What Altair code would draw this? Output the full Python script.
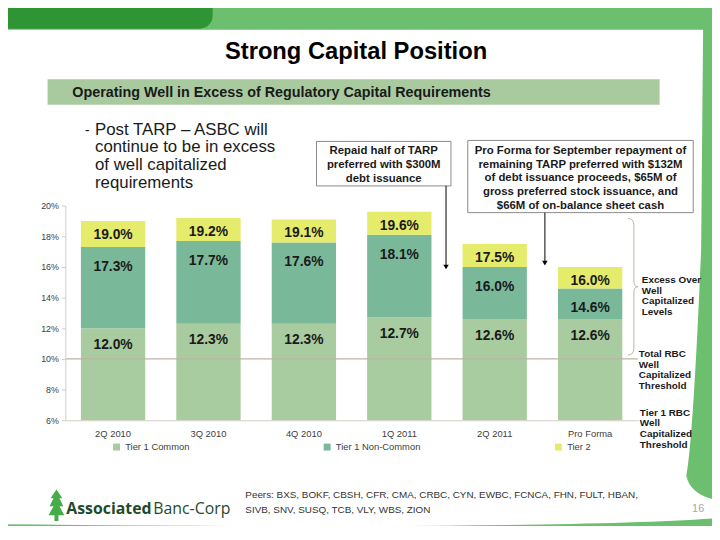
import altair as alt
import pandas as pd

# ---------------- data ----------------
periods = ["2Q 2010", "3Q 2010", "4Q 2010", "1Q 2011", "2Q 2011", "Pro Forma"]
tier1_common = [12.0, 12.3, 12.3, 12.7, 12.6, 12.6]
tier1_total = [17.3, 17.7, 17.6, 18.1, 16.0, 14.6]
total_rbc = [19.0, 19.2, 19.1, 19.6, 17.5, 16.0]
series = ["Tier 1 Common", "Tier 1 Non-Common", "Tier 2"]
colors = ["#A8CB9F", "#7AB89A", "#E5EB6A"]
axis_floor = 6          # Tier 1 RBC well capitalized threshold
total_threshold = 10    # Total RBC well capitalized threshold
y_ticks = [6, 8, 10, 12, 14, 16, 18, 20]

rows = []
for i, p in enumerate(periods):
    bounds = [axis_floor, tier1_common[i], tier1_total[i], total_rbc[i]]
    for j, s in enumerate(series):
        rows.append(dict(period=p, series=s, lo=bounds[j], hi=bounds[j + 1],
                         label=f"{bounds[j + 1]:.1f}%"))
df = pd.DataFrame(rows)

# ---------------- layout helpers ----------------
FONT = "Liberation Sans"
X0, Y0 = 66, 205          # page position of plot origin
W, H = 579, 217
CW, CH = 712, 518         # canvas size


def px(x):
    return x - X0


def py(y):
    return y - Y0


one = alt.Data(values=[{"a": 1}])


def txt(lines, x, y, size=10, weight="normal", align="left", color="#1a1a1a",
        font=FONT, lh=None):
    mk = dict(align=align, baseline="alphabetic", fontSize=size,
              fontWeight=weight, color=color, font=font)
    if lh:
        mk["lineHeight"] = lh
    t = lines if isinstance(lines, str) else list(lines)
    return alt.Chart(one).mark_text(**mk).encode(
        x=alt.value(px(x)), y=alt.value(py(y)), text=alt.value(t))


def box(x1, y1, x2, y2, fill, stroke=None, **kw):
    mk = dict(fill=fill, **kw)
    if stroke:
        mk["stroke"] = stroke
        mk["strokeWidth"] = 1
    return alt.Chart(one).mark_rect(**mk).encode(
        x=alt.value(px(x1)), x2=alt.value(px(x2)),
        y=alt.value(py(y1)), y2=alt.value(py(y2)))


def shape(points_cmds, cx, cy, s, fill=None, stroke=None, sw=1):
    # build a custom symbol path from page coordinates
    parts = []
    for cmd, *pts in points_cmds:
        coords = []
        for (x, y) in pts:
            coords.append(f"{(x - cx) / s:.4f},{(y - cy) / s:.4f}")
        parts.append(cmd + " " + " ".join(coords))
    path = " ".join(parts) + (" Z" if fill else "")
    mk = dict(shape=path, size=(2 * s) ** 2, opacity=1)
    if fill:
        mk.update(filled=True, fill=fill, strokeWidth=0)
    else:
        mk.update(filled=False, stroke=stroke, strokeWidth=sw)
    return alt.Chart(one).mark_point(**mk).encode(
        x=alt.value(px(cx)), y=alt.value(py(cy)))


# ---------------- background ----------------
white_area = shape([
    ("M", (0, 27)), ("L", (711, 27)), ("L", (709, 250)),
    ("Q", (701, 440), (694, 478)), ("Q", (698, 497), (725, 503)),
    ("L", (725, 521)), ("Q", (560, 533), (0, 527)), ("L", (-5, 27))
], 360, 275, 400, fill="white")

dark_corner = box(0, 0, 215, 26, "#2F9534", cornerRadiusBottomRight=30)
sub_bar = box(48, 77, 667, 103, "#A9C99F")

title = txt("Strong Capital Position", 360, 57, size=24, weight="bold",
            align="center", color="#000000")
subtitle = txt("Operating Well in Excess of Regulatory Capital Requirements",
               73, 95, size=14.5, weight="bold", color="#1a1a1a")

bullet_dash = txt("-", 86, 133, size=14, color="#1a1a1a")
bullet = txt(["Post TARP \u2013 ASBC will", "continue to be in excess",
              "of well capitalized", "requirements"],
             96, 133, size=17, color="#1a1a1a", lh=18)

# ---------------- chart ----------------
AX = "#D3CDC1"
x_scale = alt.Scale(paddingInner=0.326, paddingOuter=0.163)
x_axis = alt.Axis(title=None, labelAngle=0, ticks=False,
                  domainColor=AX, labelFontSize=9.5,
                  labelColor="#404040", labelPadding=8,
                  labelFont=FONT, zindex=1)
y_scale = alt.Scale(domain=[axis_floor, 20], nice=False, zero=False)
y_axis = alt.Axis(title=None, values=y_ticks, grid=False,
                  labelExpr="datum.value + '%'", tickSize=4,
                  tickColor=AX, domainColor=AX, labelOverlap=False,
                  labelFontSize=9, labelColor="#404040",
                  labelPadding=3, labelFont=FONT, zindex=1)

bars = alt.Chart(df).mark_bar().encode(
    x=alt.X("period:N", sort=periods, scale=x_scale, axis=x_axis),
    y=alt.Y("hi:Q", scale=y_scale, axis=y_axis),
    y2="lo:Q",
    color=alt.Color("series:N", scale=alt.Scale(domain=series, range=colors),
                    legend=alt.Legend(orient="none", legendX=47, legendY=239,
                                      direction="horizontal", title=None,
                                      symbolType="square", symbolSize=49,
                                      symbolStrokeWidth=0, labelFontSize=9.5,
                                      labelFont=FONT, labelColor="#404040",
                                      columnPadding=134, padding=0,
                                      labelOffset=4, zindex=1)),
)

thr_rule = alt.Chart(df).transform_filter(
    alt.datum.series == series[0]).mark_rule(
    color="#BDB3A4", strokeWidth=1.2).encode(
    y=alt.Y("thr:Q", scale=y_scale, axis=y_axis)).transform_calculate(
    thr=str(total_threshold)).transform_aggregate(thr="max(thr)")

label_layers = []
for s, dy in zip(series, [17, 20, 14]):
    label_layers.append(
        alt.Chart(df).transform_filter(alt.datum.series == s)
        .mark_text(baseline="middle", dy=dy, fontSize=14, fontWeight="bold",
                   font=FONT, color="#1a1a1a")
        .encode(x=alt.X("period:N", sort=periods, scale=x_scale, axis=x_axis),
                y=alt.Y("hi:Q", scale=y_scale, axis=y_axis),
                text="label:N"))

# ---------------- annotations ----------------
box1 = box(320, 140, 456, 185, "white", stroke="#8A8A8A")
box2 = box(473, 139, 701, 212, "white", stroke="#8A8A8A")
box1_txt = txt(["Repaid half of TARP", "preferred with $300M", "debt issuance"],
               388, 152.5, size=11.5, weight="bold", align="center", lh=14.5)
box2_txt = txt(["Pro Forma for September repayment of",
                "remaining TARP preferred with $132M",
                "of debt issuance proceeds, $65M of",
                "gross preferred stock issuance, and",
                "$66M of on-balance sheet cash"],
               587, 152.5, size=11.5, weight="bold", align="center", lh=14)


def arrow(x, y1, y2):
    line = alt.Chart(one).mark_rule(color="#000000", strokeWidth=1).encode(
        x=alt.value(px(x)), y=alt.value(py(y1)), y2=alt.value(py(y2 - 4)))
    head = alt.Chart(one).mark_point(shape="triangle-down", filled=True,
                                     fill="#000000", strokeWidth=0, size=30,
                                     opacity=1).encode(
        x=alt.value(px(x)), y=alt.value(py(y2 - 3)))
    return [line, head]


brace = shape([
    ("M", (635, 218)), ("Q", (641, 218), (641, 225)), ("L", (641, 281)),
    ("Q", (641, 287), (645, 287)), ("Q", (641, 287), (641, 293)),
    ("L", (641, 349)), ("Q", (641, 356), (635, 356))
], 641, 287, 69, stroke="#BDB5A5", sw=1)

right1 = txt(["Excess Over", "Well", "Capitalized", "Levels"], 649, 283.5,
             size=10, weight="bold", lh=10.6)
right2 = txt(["Total RBC", "Well", "Capitalized", "Threshold"], 646, 358.5,
             size=10, weight="bold", lh=10.6)
right3 = txt(["Tier 1 RBC", "Well", "Capitalized", "Threshold"], 647, 417.5,
             size=10, weight="bold", lh=10.8)

# ---------------- footer ----------------
tree = shape([
    ("M", (57, 492)), ("L", (63, 501)), ("L", (60, 501)), ("L", (64, 509)),
    ("L", (60, 509)), ("L", (65, 518)), ("L", (59, 518)), ("L", (59, 524)),
    ("L", (55, 524)), ("L", (55, 518)), ("L", (49, 518)), ("L", (54, 509)),
    ("L", (50, 509)), ("L", (54, 501)), ("L", (51, 501))
], 57, 508, 20, fill="#45AC4A")
logo_a = txt("Associated", 67, 517, size=16, weight="bold", color="#1F4B2B",
             font="Open Sans")
logo_b = txt("Banc-Corp", 155, 517, size=16, color="#1F4B2B", font="Open Sans")
peers = txt(["Peers:  BXS, BOKF, CBSH, CFR, CMA, CRBC, CYN, EWBC, FCNCA, FHN, FULT, HBAN,",
             "SIVB, SNV, SUSQ, TCB, VLY, WBS, ZION"], 248, 501, size=10,
            color="#333333", lh=15)
page_no = txt("16", 706, 515, size=11, align="center", color="#A8A8A8")

layers = [white_area, dark_corner, sub_bar, title, subtitle, bullet_dash, bullet,
          bars, thr_rule] + label_layers + [box1, box2, box1_txt, box2_txt] + \
    arrow(451, 185, 270) + arrow(551, 212, 266) + \
    [brace, right1, right2, right3, tree, logo_a, logo_b, peers, page_no]

chart = alt.layer(*layers).properties(
    width=W, height=H,
    padding={"left": X0 - 8, "top": Y0 - 8, "right": CW - (X0 - 8) - W,
             "bottom": CH - (Y0 - 8) - H},
    autosize=alt.AutoSizeParams(type="none"),
    background="#6CBF6E",
).configure_view(stroke=None)

chart.save("out.html", embed_options={"renderer": "svg", "actions": False})
